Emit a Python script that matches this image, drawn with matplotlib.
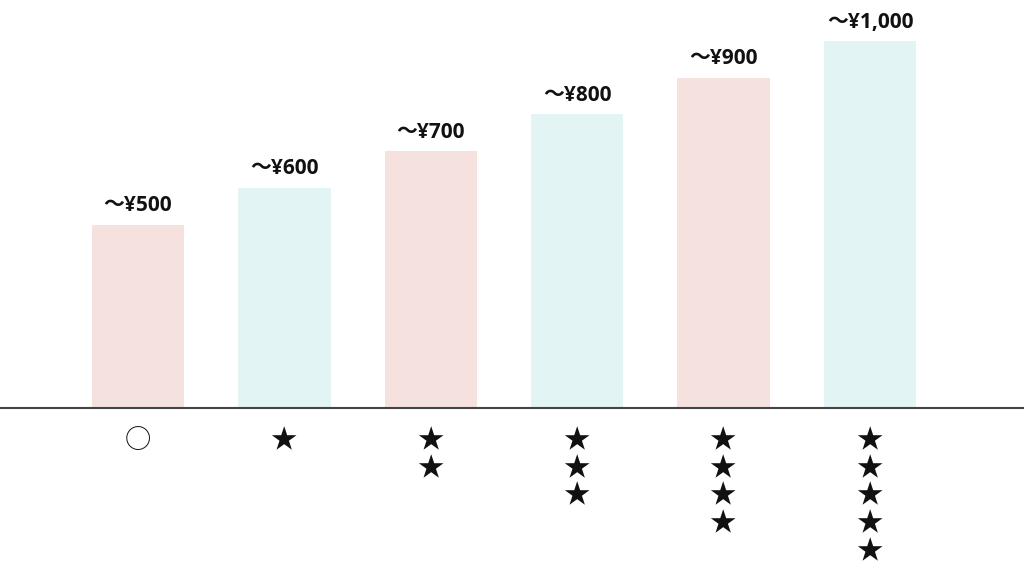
import matplotlib.pyplot as plt

plt.rcParams['font.family'] = ['Noto Sans CJK JP', 'DejaVu Sans']

prices = [500, 600, 700, 800, 900, 1000]
price_labels = ['〜¥500', '〜¥600', '〜¥700', '〜¥800', '〜¥900', '〜¥1,000']
ranks = ['○', '★', '★\n★', '★\n★\n★', '★\n★\n★\n★', '★\n★\n★\n★\n★']
colors = ['#f5e1de', '#e3f4f4'] * 3

fig = plt.figure(figsize=(10.24, 5.63), dpi=100)
ax = fig.add_axes([0, 155 / 563, 1, 367 / 563])

x = range(len(prices))
bars = ax.bar(x, prices, width=0.63, color=colors)

for b, lab in zip(bars, price_labels):
    ax.annotate(lab, (b.get_x() + b.get_width() / 2, b.get_height()),
                xytext=(0, 6), textcoords='offset points',
                ha='center', va='bottom', fontsize=15, fontweight='bold',
                family=['Open Sans', 'Noto Sans CJK JP'],
                color='#111111', annotation_clip=False)

ax.set_xlim(-0.943, 6.052)
ax.set_ylim(0, 1000)
ax.set_xticks(list(x))
ax.set_xticklabels(ranks, fontsize=19, linespacing=1.03, color='#111111')
ax.tick_params(axis='x', length=0, pad=14)
ax.set_yticks([])
for s in ['top', 'right', 'left']:
    ax.spines[s].set_visible(False)
ax.spines['bottom'].set_color('#444444')
ax.spines['bottom'].set_linewidth(1.5)

fig.savefig('out.png', dpi=100)
